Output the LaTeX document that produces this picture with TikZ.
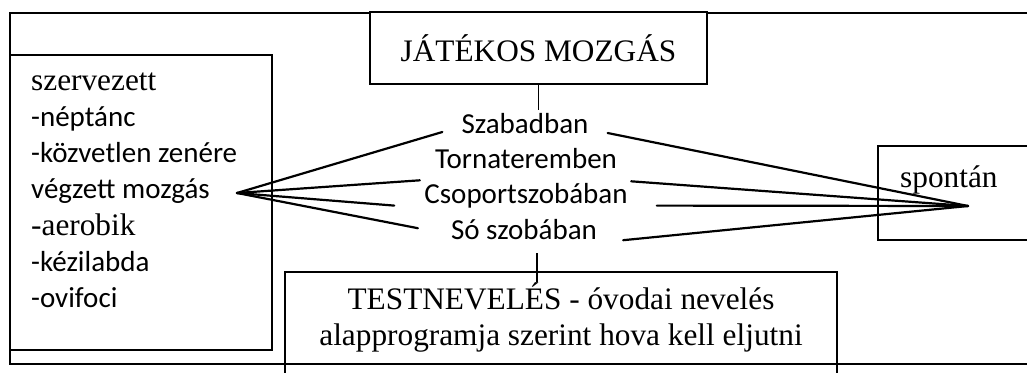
\documentclass[tikz,border=0pt]{standalone}
\usepackage{fontspec}
\setmainfont{Liberation Serif}
\newfontfamily\calibri{Carlito}
\usetikzlibrary{positioning}

\tikzset{
  box/.style={draw, line width=1.6pt, inner sep=0pt},
  serif/.style={font=\fontsize{31.3}{36}\selectfont, inner sep=0pt},
  sans/.style={font=\calibri\fontsize{29}{35}\selectfont, inner sep=0pt},
  fan/.style={line width=2.2pt, line cap=round},
  stem/.style={line width=1.6pt},
}

\begin{document}
\begin{tikzpicture}[x=1pt,y=-1pt]
    \useasboundingbox (0,0) rectangle (1027,372);
    \clip (0,0) rectangle (1027,372);
    \draw[line width=1.3pt] (10,13) rectangle (1060,364);

    % boxes
    \node[box, minimum width=262pt, minimum height=295pt] (orgbox) at (141,202.5) {};
    \node[box, serif, minimum width=337pt, minimum height=72pt, fill=white] (jatek) at (538.5,48) {JÁTÉKOS MOZGÁS};
    \node[box, minimum width=552pt, minimum height=108pt] (testbox) at (561,326) {};
    \node[box, minimum width=182pt, minimum height=94pt] (sponbox) at (969,193) {};

    % left list
    \node[serif, anchor=base west] (szerv) at (31,90) {szervezett};
    \node[sans, anchor=base west] (nept) at ([yshift=-36.3pt]szerv.base west) {-néptánc};
    \node[sans, anchor=base west] (kozv) at ([yshift=-36.3pt]nept.base west) {-közvetlen zenére};
    \node[sans, anchor=base west] (vegz) at ([yshift=-36.3pt]kozv.base west) {végzett mozgás};
    \node[serif, anchor=base west] (aerob) at ([yshift=-36.3pt]vegz.base west) {-aerobik};
    \node[sans, anchor=base west] (kezi) at ([yshift=-36.3pt]aerob.base west) {-kézilabda};
    \node[sans, anchor=base west] (ovif) at ([yshift=-36.3pt]kezi.base west) {-ovifoci};

    % places
    \node[sans, anchor=base] (szabad) at (525,133) {Szabadban};
    \node[sans, anchor=base] (torna) at ([xshift=1pt,yshift=-35.3pt]szabad.base) {Tornateremben};
    \node[sans, anchor=base] (csop) at ([yshift=-35.3pt]torna.base) {Csoportszobában};
    \node[sans, anchor=base] (so) at ([xshift=-2pt,yshift=-35.6pt]csop.base) {Só szobában};

    % bottom and right texts
    \node[serif, anchor=base] (testa) at (561,309) {TESTNEVELÉS - óvodai nevelés};
    \node[serif, anchor=base] (testb) at ([yshift=-36pt]testa.base) {alapprogramja szerint hova kell eljutni};
    \node[serif, anchor=base west] (spon) at (900,187) {spontán};

    \coordinate (orgtip) at (237,193);
    \coordinate (spontip) at (968,206);
    \coordinate (stemtop) at (537,253);

    % stems
    \draw[stem] (jatek.south) -- ([yshift=-25pt]jatek.south);
    \draw[stem] (stemtop) -- ++(0,29);

    % left fan
    \draw[fan] ([xshift=-19pt,yshift=1pt]szabad.base west) -- (orgtip);
    \draw[fan] ([xshift=-15pt,yshift=-12pt]torna.base west) -- (orgtip);
    \draw[fan] ([xshift=-30pt,yshift=-2pt]csop.base west) -- (orgtip);
    \draw[fan] ([xshift=-33pt,yshift=11pt]so.base west) -- (orgtip);

    % right fan
    \draw[fan] ([xshift=19pt]szabad.base east) -- (spontip);
    \draw[fan] ([xshift=14pt,yshift=-13pt]torna.base east) -- (spontip);
    \draw[fan] ([xshift=29pt,yshift=-2pt]csop.base east) -- (spontip);
    \draw[fan] ([xshift=26pt,yshift=-1pt]so.base east) -- (spontip);
\end{tikzpicture}
\end{document}
